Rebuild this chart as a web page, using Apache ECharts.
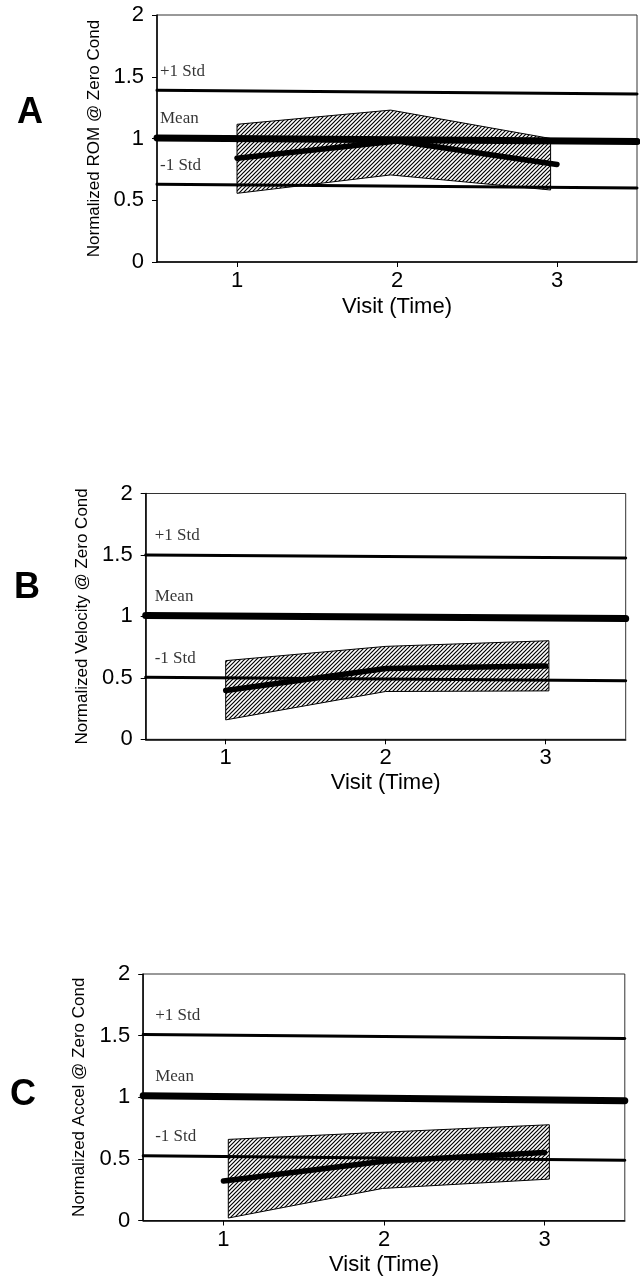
<!DOCTYPE html>
<html>
<head>
<meta charset="utf-8">
<script src="https://cdn.jsdelivr.net/npm/echarts/dist/echarts.min.js"></script>
<style>
  html, body { margin: 0; padding: 0; background: #fff; }
  #main { width: 640px; height: 1277px; }
</style>
</head>
<body>
<div id="main"></div>
<script>
// x ticks and reference line ends (visit axis runs 0.5 .. 3.5)
const xTicks = [1, 2, 3];
const lineEnds = [0.5, 3.5];
const refNames = ['+1 Std', 'Mean', '-1 Std'];

// A - ROM
const romStdHi = [1.39, 1.36];
const romMean = [1.005, 0.975];
const romStdLo = [0.63, 0.60];
const romBandX = [1, 1.96, 2.96];
const romBandHi = [1.115, 1.23, 1.0];
const romBandLo = [0.556, 0.705, 0.583];
const romVisit = [0.84, 0.98, 0.79];

// B - Velocity
const velStdHi = [1.50, 1.475];
const velMean = [1.008, 0.982];
const velStdLo = [0.505, 0.477];
const velBandX = [1, 2, 3.02];
const velBandHi = [0.64, 0.756, 0.802];
const velBandLo = [0.158, 0.389, 0.394];
const velVisit = [0.397, 0.576, 0.596];

// C - Accel
const accStdHi = [1.509, 1.477];
const accMean = [1.012, 0.972];
const accStdLo = [0.525, 0.489];
const accBandX = [1.03, 1.99, 3.03];
const accBandHi = [0.658, 0.716, 0.777];
const accBandLo = [0.02, 0.26, 0.336];
const accVisit = [0.32, 0.48, 0.551];

const panels = [
  { letter: 'A', yName: 'Normalized ROM @ Zero Cond', grid: { left: 157, top: 15, width: 480, height: 247 },
    nameGap: 52, xNameGap: 34, letterPos: [17, 95], labelDx: -2,
    stdHi: romStdHi, mean: romMean, stdLo: romStdLo, bandX: romBandX, bandHi: romBandHi, bandLo: romBandLo, visit: romVisit },
  { letter: 'B', yName: 'Normalized Velocity @ Zero Cond', grid: { left: 145.7, top: 493.5, width: 480, height: 245.8 },
    nameGap: 54, xNameGap: 33, letterPos: [14, 570], labelDx: 4,
    stdHi: velStdHi, mean: velMean, stdLo: velStdLo, bandX: velBandX, bandHi: velBandHi, bandLo: velBandLo, visit: velVisit },
  { letter: 'C', yName: 'Normalized Accel @ Zero Cond', grid: { left: 143.2, top: 974, width: 481.6, height: 248.5 },
    nameGap: 55, xNameGap: 33.5, letterPos: [10, 1077], labelDx: 7,
    stdHi: accStdHi, mean: accMean, stdLo: accStdLo, bandX: accBandX, bandHi: accBandHi, bandLo: accBandLo, visit: accVisit }
];

// diagonal hatch pattern
const hatchCanvas = document.createElement('canvas');
hatchCanvas.width = 4;
hatchCanvas.height = 4;
(function () {
  const c = hatchCanvas.getContext('2d');
  c.fillStyle = '#fff';
  c.fillRect(0, 0, 4, 4);
  c.strokeStyle = '#000';
  c.lineWidth = 1.2;
  c.beginPath();
  c.moveTo(0, 4); c.lineTo(4, 0);
  c.moveTo(-1, 1); c.lineTo(1, -1);
  c.moveTo(3, 5); c.lineTo(5, 3);
  c.stroke();
})();
const hatch = { image: hatchCanvas, repeat: 'repeat' };

const font = 'Liberation Sans, Arial, sans-serif';
const serif = 'Liberation Serif, Times New Roman, serif';

const grids = [], xAxes = [], yAxes = [], series = [], titles = [];

panels.forEach(function (p, i) {
  grids.push(Object.assign({ show: true, borderColor: '#333', borderWidth: 1 }, p.grid));
  titles.push({ text: p.letter, left: p.letterPos[0], top: p.letterPos[1], padding: 0,
    textStyle: { fontSize: 36, fontWeight: 'bold', fontFamily: font, color: '#000' } });
  xAxes.push({
    gridIndex: i, type: 'value', min: 0.5, max: 3.5,
    name: 'Visit (Time)', nameLocation: 'middle', nameGap: p.xNameGap,
    nameTextStyle: { fontSize: 22, fontFamily: font, color: '#000' },
    axisLine: { lineStyle: { color: '#000', width: 1.5 } },
    axisTick: { show: true, length: 5, customValues: xTicks, lineStyle: { color: '#000' } },
    axisLabel: { customValues: xTicks, fontSize: 22, fontFamily: font, color: '#000', margin: 8 },
    splitLine: { show: false }
  });
  yAxes.push({
    gridIndex: i, type: 'value', min: 0, max: 2, interval: 0.5,
    name: p.yName, nameLocation: 'middle', nameGap: p.nameGap,
    nameTextStyle: { fontSize: 17, fontFamily: font, color: '#000' },
    axisLine: { show: true, lineStyle: { color: '#000', width: 1.5 } },
    axisTick: { show: true, length: 5, lineStyle: { color: '#000' } },
    axisLabel: { fontSize: 22, fontFamily: font, color: '#000', margin: 13 },
    splitLine: { show: false }
  });

  // shaded band
  series.push({
    type: 'custom', xAxisIndex: i, yAxisIndex: i, z: 1,
    data: p.bandX.map(function (x, k) { return [x, p.bandLo[k], p.bandHi[k]]; }),
    encode: { x: 0, y: [1, 2] },
    renderItem: function (params, api) {
      if (params.dataIndex !== 0) return;
      const top = p.bandX.map(function (x, k) { return api.coord([x, p.bandHi[k]]); });
      const bot = p.bandX.map(function (x, k) { return api.coord([x, p.bandLo[k]]); }).reverse();
      return { type: 'polygon', shape: { points: top.concat(bot) },
        style: { fill: hatch, stroke: '#000', lineWidth: 1 } };
    }
  });

  const refs = [p.stdHi, p.mean, p.stdLo];
  refs.forEach(function (vals, r) {
    series.push({
      type: 'line', xAxisIndex: i, yAxisIndex: i, z: 3, clip: false,
      symbol: 'none', silent: true,
      data: lineEnds.map(function (x, k) { return [x, vals[k]]; }),
      lineStyle: { color: '#000', width: r === 1 ? 7 : 3, cap: 'round' }
    });
  });

  // labels for the reference lines
  series.push({
    type: 'scatter', xAxisIndex: i, yAxisIndex: i, z: 5, symbolSize: 0, silent: true,
    data: refs.map(function (vals, r) { return { name: refNames[r], value: [lineEnds[0], vals[0]] }; }),
    label: { show: true, formatter: '{b}', position: 'right', offset: [p.labelDx, -19],
      fontFamily: serif, fontSize: 17, color: '#000' }
  });

  // visit means
  series.push({
    type: 'line', xAxisIndex: i, yAxisIndex: i, z: 4, clip: false,
    symbol: 'none', silent: true,
    data: xTicks.map(function (x, k) { return [x, p.visit[k]]; }),
    lineStyle: { color: '#000', width: 5.5, cap: 'round', join: 'round' }
  });
});

const chart = echarts.init(document.getElementById('main'), null, { renderer: 'canvas', width: 640, height: 1277 });
chart.setOption({
  animation: false,
  backgroundColor: '#fff',
  title: titles,
  grid: grids,
  xAxis: xAxes,
  yAxis: yAxes,
  series: series
});
</script>
</body>
</html>
